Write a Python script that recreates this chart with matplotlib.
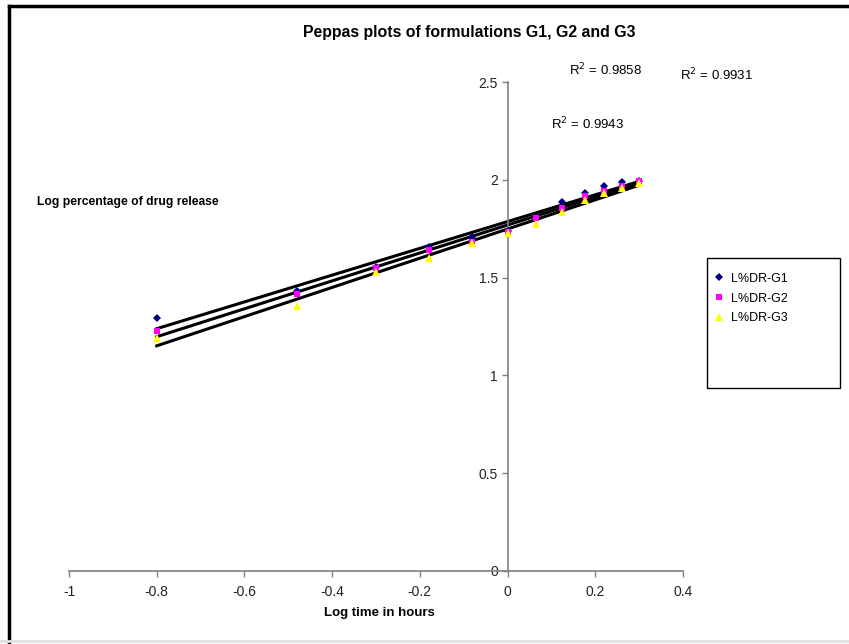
import numpy as np
import matplotlib
matplotlib.use('Agg')
import matplotlib.pyplot as plt
from matplotlib.lines import Line2D
from matplotlib.patches import Rectangle

# log time (hours)
log_time = [-0.8, -0.48, -0.3, -0.18, -0.08, 0.0, 0.064, 0.125, 0.176, 0.22, 0.26, 0.3]

# log % drug release
g1 = [1.293, 1.43, 1.554, 1.656, 1.71, 1.74, 1.81, 1.886, 1.93, 1.968, 1.99, 1.995]
g2 = [1.227, 1.415, 1.55, 1.64, 1.68, 1.733, 1.805, 1.856, 1.917, 1.945, 1.968, 1.994]
g3 = [1.19, 1.355, 1.53, 1.60, 1.677, 1.73, 1.775, 1.835, 1.897, 1.93, 1.958, 1.985]

labels = ['L%DR-G1', 'L%DR-G2', 'L%DR-G3']
r2_labels = ['R$^2$ = 0.9858', 'R$^2$ = 0.9931', 'R$^2$ = 0.9943']
x_ticks = [-1, -0.8, -0.6, -0.4, -0.2, 0, 0.2, 0.4]
x_tick_labels = ['-1', '-0.8', '-0.6', '-0.4', '-0.2', '0', '0.2', '0.4']
y_ticks = [0, 0.5, 1, 1.5, 2, 2.5]
y_tick_labels = ['0', '0.5', '1', '1.5', '2', '2.5']

plt.rcParams['font.family'] = ['Liberation Sans', 'DejaVu Sans']

fig = plt.figure(figsize=(8.49, 6.44), dpi=100)
ax = fig.add_axes([69 / 849, 73 / 644, 614 / 849, 489 / 644])

styles = [
    dict(marker='D', color='#000080', ms=4.5),
    dict(marker='s', color='#FF00FF', ms=5),
    dict(marker='^', color='#FFFF00', ms=5.5),
]

x = np.array(log_time)
for ys, st in zip([g1, g2, g3], styles):
    ax.plot(x, ys, linestyle='none', marker=st['marker'], color=st['color'],
            markersize=st['ms'], markeredgewidth=0, zorder=3)

# trend lines
for ys in [g1, g2, g3]:
    k, b = np.polyfit(x, ys, 1)
    xx = np.array([x.min(), x.max()])
    ax.plot(xx, k * xx + b, color='black', linewidth=2.2, zorder=2)

ax.set_xlim(-1, 0.4)
ax.set_ylim(0, 2.5)

ax.spines['left'].set_position(('data', 0))
ax.spines['bottom'].set_position(('data', 0))
ax.spines['right'].set_visible(False)
ax.spines['top'].set_visible(False)
for s in ['left', 'bottom']:
    ax.spines[s].set_color('#808080')
    ax.spines[s].set_linewidth(1.2)

ax.set_xticks(x_ticks)
ax.set_xticklabels(x_tick_labels)
ax.set_yticks(y_ticks)
ax.set_yticklabels(y_tick_labels)
ax.tick_params(axis='both', colors='#808080', labelcolor='#222222', labelsize=10,
               length=4, width=1)
ax.tick_params(axis='x', pad=6)
ax.tick_params(axis='y', pad=3)

# titles and labels
fig.text(469 / 849, 1 - 32 / 644, 'Peppas plots of formulations G1, G2 and G3',
         ha='center', va='center', fontsize=11.4, fontweight='bold')
fig.text(379 / 849, 1 - 613 / 644, 'Log time in hours', ha='center', va='center',
         fontsize=9.5, fontweight='bold')
fig.text(37 / 849, 1 - 202 / 644, 'Log percentage of drug release', ha='left',
         va='center', fontsize=8.7, fontweight='bold')

# R squared annotations
r2_pos = [(569, 70), (680, 75), (551, 124)]
for (px, py), t in zip(r2_pos, r2_labels):
    fig.text(px / 849, 1 - py / 644, t, ha='left', va='center', fontsize=9.5)

# legend box
fig.patches.append(Rectangle((707 / 849, 1 - 388 / 644), 133 / 849, 130 / 644,
                             transform=fig.transFigure, facecolor='white',
                             edgecolor='black', linewidth=1))
handles = [Line2D([], [], linestyle='none', marker=st['marker'], color=st['color'],
                  markersize=st['ms'], markeredgewidth=0) for st in styles]
fig.legend(handles, labels, loc='upper left', bbox_to_anchor=(704 / 849, 1 - 264 / 644),
           frameon=False, handlelength=1, handletextpad=0.5,
           labelspacing=0.62, borderpad=0.2, prop={'size': 9})

# figure frame
fig.add_artist(Line2D([9 / 849, 9 / 849], [0, 1 - 6 / 644], transform=fig.transFigure,
                      color='black', linewidth=2.5))
fig.add_artist(Line2D([9 / 849, 1], [1 - 6 / 644, 1 - 6 / 644], transform=fig.transFigure,
                      color='black', linewidth=2.5))
fig.add_artist(Line2D([0, 1], [3 / 644, 3 / 644], transform=fig.transFigure,
                      color='#e0e0e0', linewidth=2))

fig.savefig('out.png', dpi=100)
